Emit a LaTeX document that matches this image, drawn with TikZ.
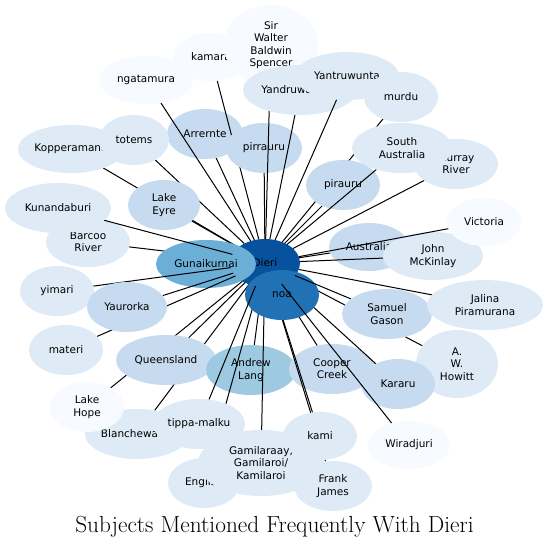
\documentclass[tikz,border=0pt]{standalone}
\usepackage{fontspec}
\usetikzlibrary{shapes.geometric}
\newfontfamily\dejavu{DejaVu Sans}
\definecolor{bA}{HTML}{F7FBFF}
\definecolor{bB}{HTML}{DEEBF7}
\definecolor{bC}{HTML}{C6DBEF}
\definecolor{bD}{HTML}{9ECAE1}
\definecolor{bE}{HTML}{6BAED6}
\definecolor{bF}{HTML}{2171B5}
\definecolor{bG}{HTML}{08519C}
\tikzset{
  hid/.style={shape=ellipse, inner sep=0pt, outer sep=0pt, draw=none},
  lbl/.style={inner sep=0pt, align=center, text=black, font=\dejavu\fontsize{10.5}{12.3}\selectfont},
  edge/.style={draw=black, line width=1pt},
  ttl/.style={anchor=base, inner sep=0pt, font=\fontsize{23.3}{27}\selectfont}
}
% #1 name, #2 x, #3 y, #4 rx, #5 ry, #6 colour, #7 text
\newcommand\defnode[7]{%
  \node[hid, minimum width={2*#4pt}, minimum height={2*#5pt}] (#1) at (#2,#3) {};
  \expandafter\def\csname shw@#1\endcsname{%
    \fill[#6] (#2,#3) ellipse [x radius=#4pt, y radius=#5pt];
    \node[lbl] at (#2,#3) {#7};}}
\newcommand\shownode[1]{\csname shw@#1\endcsname}
\newcommand\ednode[1]{\draw[edge] (Dieri) -- (#1);\shownode{#1}}
\begin{document}
\begin{tikzpicture}[x=1pt,y=-1pt]
\fill[white] (0,0) rectangle (549,547);
\useasboundingbox (0,0) rectangle (549,547);
\defnode{Dieri}{265}{263}{35}{24}{bG}{Dieri}
\defnode{Arrernte}{205}{134}{38}{25}{bC}{Arrernte}
\defnode{kamar}{211}{57}{38}{24}{bA}{kamara}
\defnode{ngatamura}{146}{80}{47}{24}{bA}{ngatamura}
\defnode{pirrauru}{264}{148}{38}{25}{bC}{pirrauru}
\defnode{SirWalter}{271}{45}{47}{40}{bA}{Sir\\Walter\\Baldwin\\Spencer}
\defnode{Yandruwandha}{300}{90}{57}{25}{bB}{Yandruwandha}
\defnode{Yantruwunta}{347}{76}{52}{24}{bB}{Yantruwunta}
\defnode{murdu}{401}{97}{37}{25}{bB}{murdu}
\defnode{MurrayRiver}{456}{164}{42}{25}{bB}{Murray\\River}
\defnode{pirauru}{343}{185}{37}{25}{bC}{pirauru}
\defnode{SouthAustralia}{402}{148}{50}{25}{bB}{South\\Australia}
\defnode{Kopperamana}{71}{149}{53}{24}{bB}{Kopperamana}
\defnode{totems}{134}{140}{35}{25}{bB}{totems}
\defnode{LakeEyre}{164}{205}{36}{25}{bC}{Lake\\Eyre}
\defnode{Barcoo}{88}{242}{42}{25}{bB}{Barcoo\\River}
\defnode{Gunaikurnai}{206}{264}{50}{24}{bE}{Gunaikurnai}
\defnode{Kunandaburi}{58}{208}{53}{25}{bB}{Kunandaburi}
\defnode{yimari}{57}{291}{37}{25}{bB}{yimari}
\defnode{materi}{66}{350}{37}{25}{bB}{materi}
\defnode{Yaurorka}{127}{307}{40}{25}{bC}{Yaurorka}
\defnode{Blanchewater}{137}{434}{52}{25}{bB}{Blanchewater}
\defnode{LakeHope}{87}{407}{37}{25}{bA}{Lake\\Hope}
\defnode{Queensland}{166}{360}{50}{25}{bC}{Queensland}
\defnode{AndrewLang}{251}{370}{45}{25}{bD}{Andrew\\Lang}
\defnode{CooperCreek}{332}{369}{43}{25}{bC}{Cooper\\Creek}
\defnode{Howitt}{457}{364}{41}{34}{bB}{A.\\W.\\Howitt}
\defnode{Kararu}{398}{384}{37}{25}{bC}{Kararu}
\defnode{English}{204}{483}{36}{25}{bB}{English}
\defnode{FrankJames}{333}{486}{39}{25}{bB}{Frank\\James}
\defnode{kami}{320}{436}{37}{24}{bB}{kami}
\defnode{Gamilaraay}{261}{463}{63}{33}{bB}{Gamilaraay,\\Gamilaroi/\\Kamilaroi}
\defnode{noa}{282}{295}{37}{25}{bF}{noa}
\defnode{tippa}{199}{424}{46}{25}{bB}{tippa-malku}
\defnode{SamuelGason}{387}{314}{45}{25}{bC}{Samuel\\Gason}
\defnode{Wiradjuri}{409}{445}{41}{24}{bA}{Wiradjuri}
\defnode{Jalina}{485}{305}{58}{25}{bB}{Jalina\\Piramurana}
\defnode{Australia}{369}{247}{40}{24}{bC}{Australia}
\defnode{JohnMcKinlay}{433}{256}{50}{24}{bB}{John\\McKinlay}
\defnode{Victoria}{484}{222}{37}{24}{bA}{Victoria}
% drawing order
\shownode{Dieri}
\ednode{Arrernte}
\ednode{kamar}
\ednode{ngatamura}
\ednode{pirrauru}
\ednode{SirWalter}
\ednode{Yandruwandha}
\ednode{Yantruwunta}
\ednode{murdu}
\ednode{MurrayRiver}
\ednode{pirauru}
\ednode{SouthAustralia}
\ednode{Kopperamana}
\ednode{totems}
\ednode{LakeEyre}
\ednode{Barcoo}
\ednode{Gunaikurnai}
\ednode{Kunandaburi}
\ednode{yimari}
\ednode{materi}
\ednode{Yaurorka}
\ednode{Blanchewater}
\ednode{LakeHope}
\ednode{Queensland}
\ednode{AndrewLang}
\ednode{CooperCreek}
\ednode{Howitt}
\ednode{Kararu}
\ednode{English}
\ednode{FrankJames}
\ednode{kami}
\ednode{Gamilaraay}
\ednode{noa}
\ednode{tippa}
\ednode{SamuelGason}
\ednode{Wiradjuri}
\ednode{Jalina}
\ednode{Australia}
\ednode{JohnMcKinlay}
\ednode{Victoria}
\node[ttl] (title) at (274.5,532) {Subjects Mentioned Frequently With Dieri};
\end{tikzpicture}
\end{document}
